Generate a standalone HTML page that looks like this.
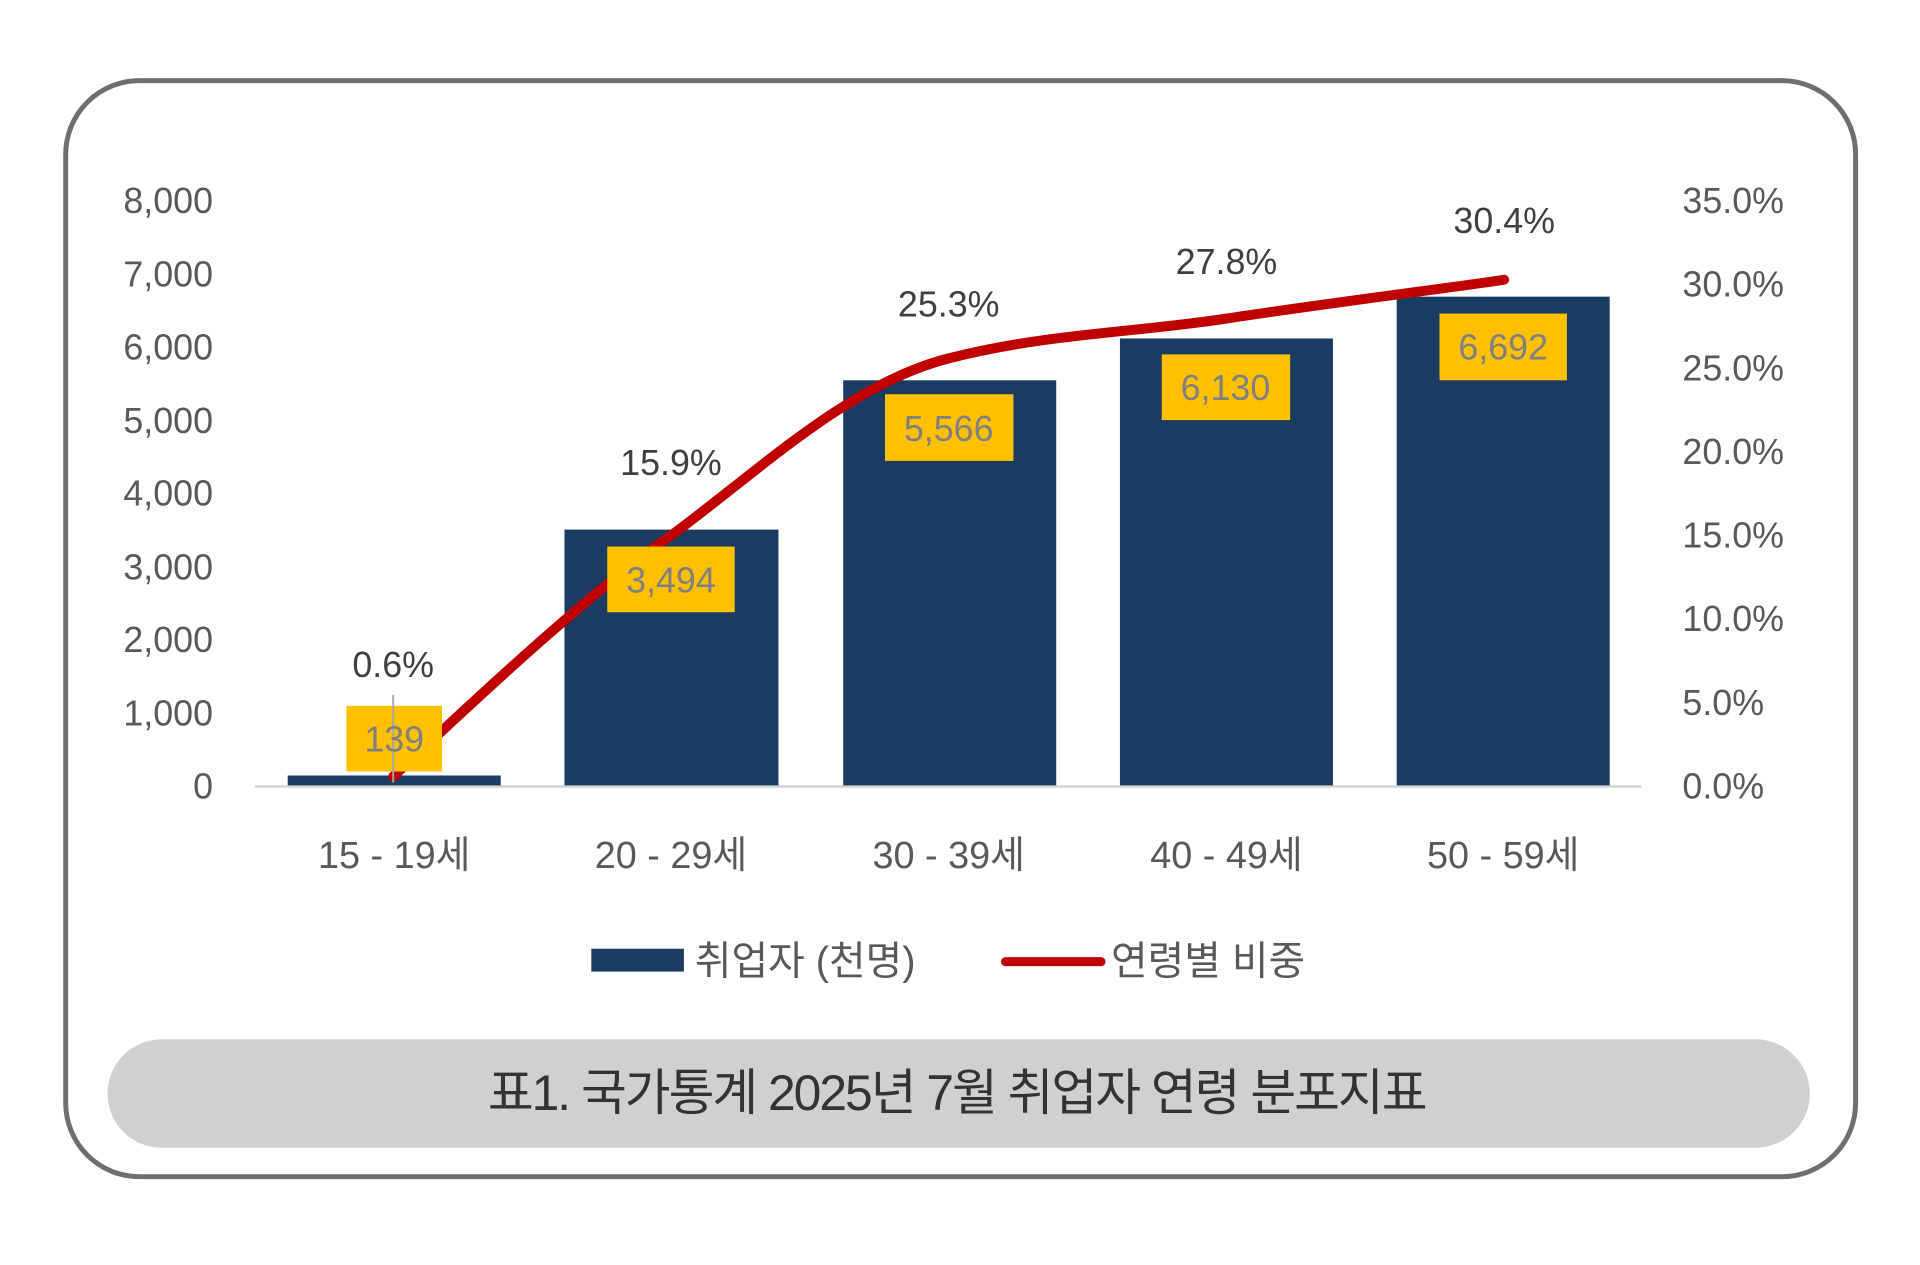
<!DOCTYPE html>
<html><head><meta charset="utf-8"><style>
html,body{margin:0;padding:0;background:#fff;}
body{width:1920px;height:1265px;position:relative;overflow:hidden;font-family:"Liberation Sans","Noto Sans CJK KR",sans-serif;}
</style></head><body>
<svg width="1920" height="1265" xmlns="http://www.w3.org/2000/svg" style="position:absolute;left:0;top:0">
<g transform="scale(0.9955)">
<rect x="66" y="81" width="1798" height="1101" rx="74" ry="74" fill="#fff" stroke="#6e6e6e" stroke-width="5"/>
<g font-family="Liberation Sans, Noto Sans CJK KR, sans-serif" font-size="36" fill="#595959">
<g text-anchor="end">
<text x="214" y="214">8,000</text><text x="214" y="288">7,000</text><text x="214" y="361">6,000</text><text x="214" y="435">5,000</text><text x="214" y="508">4,000</text><text x="214" y="582">3,000</text><text x="214" y="655">2,000</text><text x="214" y="729">1,000</text><text x="214" y="802">0</text>
</g>
<text x="1690" y="214">35.0%</text><text x="1690" y="298">30.0%</text><text x="1690" y="382">25.0%</text><text x="1690" y="466">20.0%</text><text x="1690" y="550">15.0%</text><text x="1690" y="634">10.0%</text><text x="1690" y="718">5.0%</text><text x="1690" y="802">0.0%</text>
</g>
<line x1="256" y1="790" x2="1649" y2="790" stroke="#d9d9d9" stroke-width="3"/>
<g fill="#1a3c63">
<rect x="289" y="779" width="214" height="10"/>
<rect x="567" y="532" width="215" height="257"/>
<rect x="847" y="382" width="214" height="407"/>
<rect x="1125" y="340" width="214" height="449"/>
<rect x="1403" y="298" width="214" height="491"/>
</g>
<path d="M395,780 C441,737 588,597 674,538 C760,475 853,385 953,360 C1050,335 1142,334 1232,320 C1323,306 1465,288 1511,281" fill="none" stroke="#c00000" stroke-width="10" stroke-linecap="round"/>
<g fill="#ffc000">
<rect x="348" y="709" width="96" height="66"/>
<rect x="610" y="549" width="128" height="66"/>
<rect x="889" y="396" width="129" height="67"/>
<rect x="1167" y="356" width="129" height="66"/>
<rect x="1446" y="315" width="128" height="67"/>
</g>
<line x1="395" y1="698" x2="395" y2="786" stroke="#a6a6a6" stroke-width="2"/>
<g font-family="Liberation Sans, sans-serif" font-size="36" fill="#808080" text-anchor="middle">
<text x="396" y="755">139</text><text x="674" y="595">3,494</text><text x="953" y="443">5,566</text><text x="1231" y="402">6,130</text><text x="1510" y="361">6,692</text>
</g>
<g font-family="Liberation Sans, sans-serif" font-size="36" fill="#404040" text-anchor="middle">
<text x="395" y="680">0.6%</text><text x="674" y="477">15.9%</text><text x="953" y="318">25.3%</text><text x="1232" y="275">27.8%</text><text x="1511" y="234">30.4%</text>
</g>
<g font-family="Liberation Sans, Noto Sans CJK KR, sans-serif" font-size="38" fill="#595959" text-anchor="middle">
<text x="396" y="872">15 - 19세</text><text x="674" y="872">20 - 29세</text><text x="953" y="872">30 - 39세</text><text x="1232" y="872">40 - 49세</text><text x="1510" y="872">50 - 59세</text>
</g>
<rect x="594" y="953" width="93" height="23" fill="#1a3c63"/>
<text x="698" y="979" font-family="Liberation Sans, Noto Sans CJK KR, sans-serif" font-size="40" fill="#595959">취업자 (천명)</text>
<line x1="1010" y1="966" x2="1106" y2="966" stroke="#c00000" stroke-width="9" stroke-linecap="round"/>
<text x="1116" y="979" font-family="Liberation Sans, Noto Sans CJK KR, sans-serif" font-size="40" fill="#595959">연령별 비중</text>
<rect x="108" y="1044" width="1710" height="109" rx="54.5" ry="54.5" fill="#d0d0d0"/>
<text x="961" y="1115" text-anchor="middle" font-family="Liberation Sans, Noto Sans CJK KR, sans-serif" font-size="50" fill="#333" letter-spacing="-2">표1. 국가통계 2025년 7월 취업자 연령 분포지표</text>
</g>
</svg>
</body></html>
